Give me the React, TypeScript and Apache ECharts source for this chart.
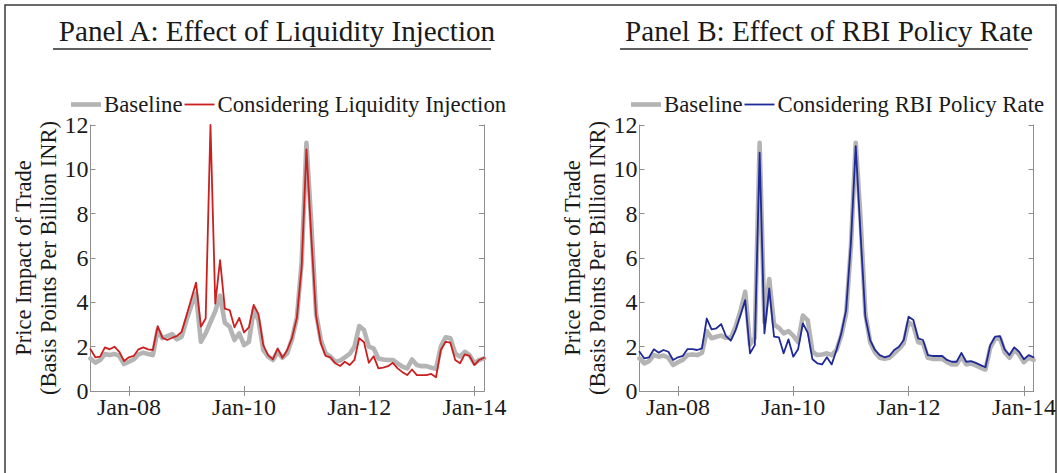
import React, { useEffect, useRef } from 'react';
import * as echarts from 'echarts';

// Monthly categories, May 2007 .. Mar 2014
const monthNames = ['Jan', 'Feb', 'Mar', 'Apr', 'May', 'Jun', 'Jul', 'Aug', 'Sep', 'Oct', 'Nov', 'Dec'];
const months: string[] = (() => {
  const out: string[] = [];
  let y = 2007;
  let m = 4;
  while (!(y === 2014 && m === 3)) {
    out.push(`${monthNames[m]}-${String(y % 100).padStart(2, '0')}`);
    m++;
    if (m === 12) { m = 0; y++; }
  }
  return out;
})();

const xTickLabels = ['Jan-08', 'Jan-10', 'Jan-12', 'Jan-14'];

const baselineA = [
  1.47, 1.28, 1.4, 1.67, 1.62, 1.67, 1.58, 1.22, 1.32, 1.42,
  1.65, 1.73, 1.67, 1.62, 2.75, 2.38, 2.48, 2.57, 2.33, 2.45,
  3.2, 3.85, 4.4, 2.22, 2.6, 3.1, 3.6, 4.3, 3.08, 2.9,
  2.3, 2.6, 2.07, 2.22, 3.65, 3.2, 1.85, 1.55, 1.4, 1.77,
  1.5, 1.7, 2.35, 3.3, 5.8, 11.2, 7.6, 3.5, 2.3, 1.7,
  1.55, 1.32, 1.37, 1.52, 1.67, 2.0, 2.93, 2.75, 2.0, 1.92,
  1.47, 1.42, 1.4, 1.4, 1.25, 1.1, 1.02, 1.42, 1.17, 1.12,
  1.12, 1.05, 1.0, 2.0, 2.42, 2.38, 1.7, 1.55, 1.77, 1.62,
  1.25, 1.4, 1.47,
];

const liquidityA = [
  1.88, 1.52, 1.55, 1.97, 1.88, 2.0, 1.77, 1.35, 1.52, 1.58,
  1.88, 1.97, 1.88, 1.85, 2.93, 2.4, 2.3, 2.4, 2.48, 2.67,
  3.4, 4.15, 4.89, 2.9, 3.27, 12.0, 3.94, 5.9, 3.72, 3.65,
  2.87, 3.3, 2.64, 2.87, 3.88, 3.47, 2.07, 1.62, 1.43, 1.92,
  1.5, 1.85, 2.4, 3.3, 5.6, 10.9, 7.0, 3.4, 2.15, 1.58,
  1.52, 1.25, 1.13, 1.32, 1.17, 1.4, 2.38, 2.2, 1.27, 1.57,
  1.02, 1.05, 1.12, 1.27, 1.02, 0.85, 0.72, 0.97, 0.72, 0.72,
  0.72, 0.77, 0.62, 1.85, 2.22, 2.18, 1.4, 1.25, 1.65, 1.58,
  1.17, 1.4, 1.5,
];

const baselineB = [
  1.47, 1.25, 1.35, 1.62, 1.55, 1.6, 1.5, 1.17, 1.3, 1.4,
  1.62, 1.65, 1.62, 1.72, 2.7, 2.38, 2.45, 2.5, 2.4, 2.4,
  2.9, 3.6, 4.48, 2.1, 2.4, 11.2, 3.1, 5.05, 3.0, 2.85,
  2.6, 2.7, 2.5, 2.2, 3.4, 3.2, 1.77, 1.62, 1.65, 1.7,
  1.62, 1.85, 2.5, 3.5, 6.5, 11.2, 7.8, 3.5, 2.2, 1.75,
  1.5, 1.45, 1.5, 1.7, 1.9, 2.15, 3.1, 2.95, 2.2, 2.15,
  1.5, 1.45, 1.45, 1.45, 1.3, 1.2, 1.2, 1.55, 1.2, 1.25,
  1.15, 1.05, 0.97, 1.95, 2.35, 2.4, 1.75, 1.5, 1.85, 1.65,
  1.3, 1.5, 1.4,
];

const policyRateB = [
  1.77, 1.47, 1.52, 1.88, 1.73, 1.85, 1.77, 1.4, 1.52, 1.58,
  1.89, 1.89, 1.85, 1.92, 3.27, 2.78, 2.83, 3.02, 2.48, 2.27,
  2.75, 3.42, 4.1, 1.7, 2.07, 10.75, 2.6, 4.63, 2.45, 2.42,
  1.7, 2.33, 1.55, 1.88, 3.05, 2.63, 1.43, 1.25, 1.2, 1.52,
  1.2, 1.85, 2.6, 3.65, 6.7, 11.05, 7.1, 3.35, 2.3, 1.85,
  1.62, 1.52, 1.58, 1.85, 2.0, 2.3, 3.35, 3.2, 2.37, 2.3,
  1.62, 1.58, 1.58, 1.58, 1.4, 1.32, 1.32, 1.72, 1.32, 1.35,
  1.27, 1.17, 1.07, 2.07, 2.45, 2.48, 1.88, 1.62, 1.97, 1.77,
  1.43, 1.62, 1.52,
];

const titleA = 'Panel A: Effect of Liquidity Injection';
const titleB = 'Panel B: Effect of RBI Policy Rate';
const seriesNameA = 'Considering Liquidity Injection';
const seriesNameB = 'Considering RBI Policy Rate';
const baselineName = 'Baseline';
const yName = 'Price Impact of Trade\n(Basis Points Per Billion INR)';

const FONT = "'Liberation Serif', 'Times New Roman', serif";
const TEXT = '#1a1a1a';
const AXIS = '#8f8f8f';
const GREY = '#b4b4b4';
const RED = '#cc1f1f';
const BLUE = '#1f2a98';

const TITLE_SIZE = 29.2;
const TICK_SIZE = 24;
const LEGEND_SIZE = 22.8;
const NAME_SIZE = 22.5;

// legend icons: thick bar for baseline, thin bar for the other series (M points fix the bounding box)
const ICON_THICK = 'path://M0,0M30,12M0,3.7h30v4.6h-30z';
const ICON_THIN = 'path://M0,0M30,12M0,5.1h30v1.8h-30z';

const isTick = (_i: number, v: string) => xTickLabels.includes(v);

function measure(text: string, size: number): number {
  const c = document.createElement('canvas').getContext('2d');
  if (!c) return text.length * size * 0.45;
  c.font = `${size}px 'Liberation Serif'`;
  return c.measureText(text).width;
}

export default function App() {
  const ref = useRef<HTMLDivElement>(null);
  useEffect(() => {
    document.body.style.margin = '0';
    if (!ref.current) return;
    const chart = echarts.init(ref.current, undefined, { renderer: 'svg' });

    const grids = [
      { left: 90.5, top: 125, width: 393.5, height: 266 },
      { left: 639.5, top: 125, width: 394, height: 266 },
    ];

    const xAxes: any[] = [];
    const yAxes: any[] = [];
    [0, 1].forEach((g) => {
      xAxes.push({
        gridIndex: g, type: 'category', data: months, boundaryGap: false, position: 'bottom',
        axisLine: { lineStyle: { color: AXIS, width: 1 } },
        axisTick: { inside: true, length: 5, interval: isTick, lineStyle: { color: AXIS } },
        axisLabel: { interval: isTick, fontSize: TICK_SIZE, fontFamily: FONT, color: TEXT, margin: 4 },
        splitLine: { show: false },
      });
      xAxes.push({
        gridIndex: g, type: 'category', data: months, boundaryGap: false, position: 'top',
        axisLine: { lineStyle: { color: AXIS, width: 1 } },
        axisTick: { inside: true, length: 5, interval: isTick, lineStyle: { color: AXIS } },
        axisLabel: { show: false },
        splitLine: { show: false },
      });
      yAxes.push({
        gridIndex: g, type: 'value', min: 0, max: 12, interval: 2, position: 'left',
        axisLine: { show: true, lineStyle: { color: AXIS, width: 1 } },
        axisTick: { show: true, inside: true, length: 5, lineStyle: { color: AXIS } },
        axisLabel: { fontSize: TICK_SIZE, fontFamily: FONT, color: TEXT, margin: 2 },
        splitLine: { show: false },
        name: yName, nameLocation: 'middle', nameRotate: 90, nameGap: 30,
        nameTextStyle: { fontSize: NAME_SIZE, lineHeight: 25, fontFamily: FONT, color: TEXT, align: 'center' },
      });
      yAxes.push({
        gridIndex: g, type: 'value', min: 0, max: 12, interval: 2, position: 'right',
        axisLine: { show: true, lineStyle: { color: AXIS, width: 1 } },
        axisTick: { show: true, inside: true, length: 5, lineStyle: { color: AXIS } },
        axisLabel: { show: false },
        splitLine: { show: false },
      });
    });

    const mk = (name: string, data: number[], g: number, color: string, width: number, z: number) => ({
      type: 'line', name, data, xAxisIndex: g * 2, yAxisIndex: g * 2,
      showSymbol: false, symbol: 'none', z,
      lineStyle: { color, width, join: 'round', cap: 'round' },
      itemStyle: { color },
    });

    const wA = measure(titleA, TITLE_SIZE);
    const wB = measure(titleB, TITLE_SIZE);
    const cA = 272;
    const cB = 824;

    const legendBase = {
      top: 88, itemWidth: 30, itemHeight: 12, itemGap: 2,
      textStyle: { fontSize: LEGEND_SIZE, fontFamily: FONT, color: TEXT, padding: [0, 0, 0, -2] },
    };

    const option: any = {
      animation: false,
      backgroundColor: '#ffffff',
      grid: grids,
      xAxis: xAxes,
      yAxis: yAxes,
      title: [
        { text: titleA, left: cA, top: 11, textAlign: 'center', textStyle: { fontSize: TITLE_SIZE, fontWeight: 'normal', fontFamily: FONT, color: TEXT } },
        { text: titleB, left: cB, top: 11, textAlign: 'center', textStyle: { fontSize: TITLE_SIZE, fontWeight: 'normal', fontFamily: FONT, color: TEXT } },
      ],
      legend: [
        {
          ...legendBase, left: 66,
          data: [{ name: baselineName, icon: ICON_THICK }, { name: seriesNameA, icon: ICON_THIN }],
        },
        {
          ...legendBase, left: 626,
          data: [{ name: baselineName, icon: ICON_THICK }, { name: seriesNameB, icon: ICON_THIN }],
        },
      ],
      series: [
        mk(baselineName, baselineA, 0, GREY, 4.6, 2),
        mk(seriesNameA, liquidityA, 0, RED, 1.8, 3),
        mk(baselineName, baselineB, 1, GREY, 4.6, 2),
        mk(seriesNameB, policyRateB, 1, BLUE, 1.8, 3),
      ],
      graphic: [
        { type: 'rect', shape: { x: 5, y: 5, width: 1051, height: 500 }, style: { fill: 'none', stroke: '#3a3a3a', lineWidth: 1.5 }, silent: true },
        { type: 'line', shape: { x1: cA - wA / 2, y1: 49, x2: cA + wA / 2, y2: 49 }, style: { stroke: '#2a2a2a', lineWidth: 1.3 } },
        { type: 'line', shape: { x1: cB - wB / 2, y1: 49, x2: cB + wB / 2, y2: 49 }, style: { stroke: '#2a2a2a', lineWidth: 1.3 } },
      ],
    };
    chart.setOption(option);
    return () => chart.dispose();
  }, []);
  return <div ref={ref} style={{ width: 1059, height: 473 }} />;
}
